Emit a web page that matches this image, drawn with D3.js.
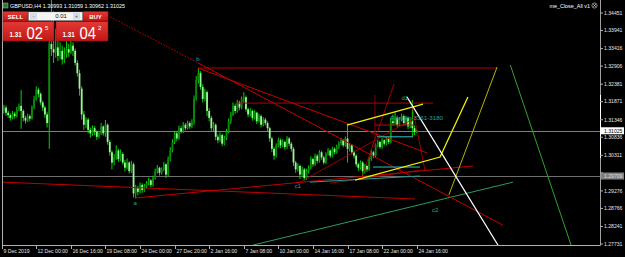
<!DOCTYPE html>
<html><head><meta charset="utf-8">
<script src="https://cdn.jsdelivr.net/npm/d3@7"></script>
<style>html,body{margin:0;padding:0;background:#000;overflow:hidden}svg{display:block}</style>
</head><body>
<svg id="c" width="625" height="257"></svg>
<script>
// ---------------- DATA ----------------
const symbolTitle = "GBPUSD,H4";
const lastOHLC = ["1.30993", "1.31059", "1.30962", "1.31025"];
const firstOpen = 1.3155;
const closes = [
1.3160,1.3170,1.3155,1.3148,1.3140,1.3152,1.3145,1.3165,1.3175,1.3160,
1.3140,1.3132,1.3145,1.3138,1.3170,1.3195,1.3222,1.3210,1.3185,1.3170,
1.3150,1.3125,1.3355,1.3340,1.3330,1.3345,1.3320,1.3335,1.3310,1.3325,
1.3340,1.3330,1.3350,1.3335,1.3300,1.3270,1.3225,1.3150,1.3120,1.3135,
1.3105,1.3095,1.3110,1.3100,1.3085,1.3095,1.3115,1.3095,1.3120,1.3070,
1.3040,1.3010,1.3025,1.3045,1.3020,1.3035,1.3010,1.2995,1.3010,1.2985,
1.3005,1.2920,1.2935,1.2925,1.2945,1.2930,1.2940,1.2950,1.2958,1.2945,
1.2965,1.2985,1.2995,1.2980,1.2990,1.3005,1.2975,1.3020,1.3045,1.3070,
1.3095,1.3080,1.3110,1.3100,1.3120,1.3110,1.3125,1.3115,1.3128,1.3195,
1.3250,1.3270,1.3230,1.3195,1.3215,1.3160,1.3140,1.3110,1.3120,1.3085,
1.3075,1.3090,1.3065,1.3080,1.3100,1.3130,1.3150,1.3175,1.3160,1.3185,
1.3170,1.3195,1.3200,1.3165,1.3150,1.3160,1.3140,1.3155,1.3130,1.3145,
1.3120,1.3135,1.3125,1.3110,1.3080,1.3050,1.3030,1.3060,1.3075,1.3060,
1.3070,1.3055,1.3080,1.3065,1.3050,1.3010,1.2990,1.3000,1.2975,1.2990,
1.2965,1.2985,1.2995,1.3020,1.3005,1.3030,1.3015,1.3040,1.3025,1.3010,
1.3035,1.3045,1.3030,1.3050,1.3040,1.3055,1.3065,1.3075,1.3060,1.3080,
1.3050,1.3060,1.3040,1.3030,1.3005,1.2995,1.3010,1.2985,1.3000,1.2990,
1.3020,1.3040,1.3030,1.3060,1.3070,1.3055,1.3075,1.3065,1.3080,1.3070,
1.3130,1.3125,1.3140,1.3120,1.3135,1.3145,1.3125,1.3140,1.3115,1.3130,
1.3110,1.30993,1.31025];
const highs = [
1.3172,1.3178,1.3176,1.3161,1.3153,1.3160,1.3158,1.3172,1.3182,1.3221,
1.3165,1.3146,1.3152,1.3150,1.3176,1.3204,1.3232,1.3228,1.3214,1.3190,
1.3175,1.3158,1.3420,1.3510,1.3450,1.3400,1.3370,1.3360,1.3350,1.3345,
1.3365,1.3355,1.3372,1.3360,1.3342,1.3308,1.3280,1.3232,1.3160,1.3142,
1.3140,1.3112,1.3118,1.3116,1.3104,1.3102,1.3125,1.3118,1.3134,1.3124,
1.3076,1.3046,1.3035,1.3060,1.3050,1.3048,1.3040,1.3018,1.3022,1.3014,
1.3015,1.3010,1.2945,1.2942,1.2952,1.2950,1.2948,1.2956,1.2966,1.2962,
1.2972,1.2992,1.3003,1.2998,1.2996,1.3012,1.3008,1.3028,1.3055,1.3078,
1.3102,1.3100,1.3118,1.3116,1.3128,1.3125,1.3132,1.3130,1.3136,1.3205,
1.3262,1.3285,1.3276,1.3238,1.3225,1.3220,1.3168,1.3146,1.3128,1.3124,
1.3092,1.3098,1.3094,1.3088,1.3108,1.3138,1.3158,1.3185,1.3180,1.3192,
1.3190,1.3202,1.3215,1.3205,1.3170,1.3168,1.3164,1.3162,1.3158,1.3152,
1.3150,1.3142,1.3140,1.3130,1.3114,1.3085,1.3056,1.3066,1.3082,1.3080,
1.3078,1.3074,1.3087,1.3084,1.3070,1.3055,1.3015,1.3008,1.3004,1.2998,
1.2994,1.2992,1.3002,1.3028,1.3024,1.3036,1.3034,1.3046,1.3044,1.3030,
1.3040,1.3052,1.3048,1.3056,1.3054,1.3062,1.3072,1.3082,1.3078,1.3086,
1.3121,1.3066,1.3064,1.3045,1.3034,1.3010,1.3016,1.3014,1.3006,1.3004,
1.3026,1.3046,1.3044,1.3066,1.3076,1.3074,1.3082,1.3078,1.3086,1.3084,
1.3140,1.3150,1.3156,1.3146,1.3142,1.3152,1.3150,1.3146,1.3144,1.3135,
1.3192,1.3118,1.31059];
const lows = [
1.3148,1.3152,1.3146,1.3140,1.3132,1.3136,1.3138,1.3141,1.3160,1.3108,
1.3130,1.3124,1.3128,1.3130,1.3135,1.3166,1.3190,1.3200,1.3178,1.3160,
1.3140,1.3112,1.3050,1.3320,1.3300,1.3315,1.3305,1.3310,1.3295,1.3300,
1.3315,1.3318,1.3325,1.3320,1.3292,1.3260,1.3205,1.3135,1.3105,1.3110,
1.3095,1.3082,1.3088,1.3090,1.3076,1.3080,1.3090,1.3088,1.3085,1.3062,
1.3030,1.2990,1.3002,1.3018,1.3012,1.3015,1.3004,1.2985,1.2990,1.2978,
1.2980,1.2908,1.2905,1.2915,1.2920,1.2922,1.2925,1.2935,1.2944,1.2938,
1.2940,1.2960,1.2978,1.2972,1.2975,1.2985,1.2965,1.2970,1.3014,1.3040,
1.3064,1.3072,1.3076,1.3094,1.3096,1.3104,1.3106,1.3108,1.3110,1.3120,
1.3190,1.3240,1.3222,1.3185,1.3188,1.3145,1.3130,1.3100,1.3102,1.3075,
1.3066,1.3070,1.3058,1.3060,1.3075,1.3095,1.3122,1.3145,1.3152,1.3155,
1.3162,1.3165,1.3185,1.3158,1.3142,1.3144,1.3132,1.3135,1.3122,1.3126,
1.3112,1.3115,1.3118,1.3100,1.3070,1.3040,1.3018,1.3025,1.3055,1.3052,
1.3055,1.3048,1.3050,1.3058,1.3042,1.3000,1.2980,1.2984,1.2962,1.2968,
1.2958,1.2960,1.2978,1.2990,1.2998,1.3000,1.3008,1.3010,1.3018,1.3004,
1.3006,1.3030,1.3024,1.3026,1.3034,1.3036,1.3050,1.3060,1.3054,1.3056,
1.3010,1.3042,1.3034,1.3022,1.2998,1.2986,1.2990,1.2968,1.2978,1.2982,
1.2986,1.3015,1.3024,1.3026,1.3054,1.3050,1.3050,1.3060,1.3060,1.3064,
1.3066,1.3118,1.3120,1.3112,1.3115,1.3130,1.3118,1.3120,1.3108,1.3110,
1.3085,1.3090,1.30962];

const timeTickBars = [0,16,32,48,64,80,96,112,128,144,160,176,192];
const timeTickLabels = ["9 Dec 2019","12 Dec 00:00","16 Dec 16:00","19 Dec 08:00","24 Dec 00:00","27 Dec 20:00","2 Jan 16:00","7 Jan 08:00","10 Jan 00:00","14 Jan 16:00","17 Jan 08:00","22 Jan 00:00","24 Jan 16:00"];
const priceTicks = [1.34451,1.33941,1.33416,1.32906,1.32381,1.31871,1.31346,1.30836,1.30311,1.29801,1.29276,1.28766,1.28241,1.27731];
const bidPrice = 1.31025;
const grayLevel = 1.29709;

// drawn objects: [barIndex, price] end points
const redDotted   = [[47.8,1.3442],[90.8,1.3300]];
const redFromB    = [[90.8,1.3300],[231.9,1.2828]];
const redTopHoriz = [[90.8,1.3285],[229.2,1.3285]];
const redBtoD     = [[90.8,1.3285],[196.8,1.3038]];
const redMidHoriz = [[107.9,1.3183],[199.5,1.3183]];
const redLowA     = [[0.6,1.2953],[191.2,1.2904]];
const redLowB     = [[61.7,1.2907],[218.0,1.3000]];
const redSteep    = [[166.7,1.2969],[181.5,1.3239]];
const redVertical = [[172.7,1.3207],[172.7,1.3056]];
const redC1D1     = [[138.0,1.2953],[193.5,1.3148]];
const redD1Down   = [[189.8,1.3178],[195.8,1.2988]];
const redShort    = [[172.7,1.3119],[190.3,1.3119]];
const redLowFlat  = [[151.9,1.2950],[193.5,1.2988]];
const yellowPath  = [[163.5,1.2959],[202.8,1.3026],[215.7,1.3201]];
const yellowUpper = [[159.7,1.3119],[194.9,1.3180]];
const oliveLine   = [[206.9,1.2916],[229.2,1.3288]];
const whiteLine   = [[187.5,1.3201],[229.6,1.2770]];
const greenDark   = [[116.3,1.2770],[236.5,1.2953]];
const greenLine   = [[235.3,1.3294],[263.4,1.2770]];
const cyanA       = [[173.6,1.3085],[190.3,1.3085]];
const cyanB       = [[171.8,1.2997],[193.5,1.2997]];
const cyanC       = [[142.6,1.2953],[193.5,1.2971]];
const waveLabels  = ["a","b","c1","d1","c2"];
const wavePoints  = [[61.7,1.2893],[90.8,1.3312],[137.0,1.2943],[186.5,1.3199],[200.5,1.2873]];
const noteText = "Ranges 3361-3180";
const notePoint = [204.2,1.3140];

// ---------------- DRAW ----------------
const W=625,H=257;
const svg=d3.select('#c');
svg.append('rect').attr('width',W).attr('height',H).attr('fill','#000');
const x=d3.scaleLinear().domain([0,192]).range([1.7,416.7]);
const y=d3.scaleLinear().domain([1.34451,1.27731]).range([13,244]);
const FONT="'Liberation Sans', Arial, sans-serif";

const defs=svg.append('defs');
defs.append('clipPath').attr('id','clip')
  .append('rect').attr('x',2).attr('y',0).attr('width',598).attr('height',245);
const plot=svg.append('g').attr('clip-path','url(#clip)');

function hline(v,color){
  plot.append('line').attr('x1',2).attr('x2',600).attr('y1',Math.round(y(v))+0.5).attr('y2',Math.round(y(v))+0.5)
    .attr('stroke',color).attr('stroke-width',1);
}
hline(bidPrice,'#74808e');
hline(grayLevel,'#6e6e6e');

// candles
const opens = closes.map((c,i)=> i===0 ? firstOpen : (i===closes.length-1 ? +lastOHLC[0] : closes[i-1]));
const cg = plot.append('g');
closes.forEach((c,i)=>{
  const o=opens[i], cx=x(i);
  cg.append('line').attr('x1',cx).attr('x2',cx).attr('y1',y(highs[i])).attr('y2',y(lows[i]))
    .attr('stroke','#00d400').attr('stroke-width',1);
  const top=y(Math.max(o,c)), bot=y(Math.min(o,c));
  cg.append('rect').attr('x',cx-0.9).attr('width',1.8).attr('y',top).attr('height',Math.max(0.8,bot-top))
    .attr('fill', c>=o ? '#0a8a0a' : '#9cf59c');
});

function seg(pts,color,w,dash){
  plot.append('path').attr('d',d3.line().x(d=>x(d[0])).y(d=>y(d[1]))(pts))
    .attr('fill','none').attr('stroke',color).attr('stroke-width',w)
    .attr('stroke-dasharray',dash||null);
}
seg(greenDark,'#2e9a62',1);
seg(greenLine,'#2fa12f',1);
seg(redLowA,'#c00000',1);
seg(redLowB,'#c00000',1);
seg(redTopHoriz,'#b00000',1);
seg(redMidHoriz,'#b40000',1);
seg(redDotted,'#d00000',1,'1.5,1.5');
seg(redFromB,'#c80000',1);
seg(redBtoD,'#c80000',1);
seg(redSteep,'#c80000',0.8);
seg(redVertical,'#800000',1);
seg(redC1D1,'#c00000',0.8);
seg(redD1Down,'#c00000',0.8);
seg(redShort,'#d00000',1);
seg(redLowFlat,'#c00000',0.8);
seg(cyanC,'#2a9c9c',1);
seg(cyanA,'#30c0c0',1);
seg(cyanB,'#30c0c0',1);
seg(oliveLine,'#b8b400',1);
seg(yellowUpper,'#f0f000',1.3);
seg(yellowPath,'#f0f000',1.3);
seg(whiteLine,'#ffffff',1.2);

// note text
plot.append('text').attr('x',x(notePoint[0])).attr('y',y(notePoint[1])+2)
  .attr('text-anchor','end').attr('font-family',FONT).attr('font-size',6.2)
  .attr('fill','#1fa5a5').text(noteText);

waveLabels.forEach((t,i)=>{
  plot.append('text').attr('x',x(wavePoints[i][0])).attr('y',y(wavePoints[i][1])+2)
    .attr('text-anchor','middle').attr('font-family',FONT).attr('font-size',6)
    .attr('fill','#1fa5a5').text(t);
});

// axes frame
const ax=svg.append('g');
ax.append('line').attr('x1',2.5).attr('x2',2.5).attr('y1',0).attr('y2',245.5).attr('stroke','#b0b0b0');
ax.append('line').attr('x1',2).attr('x2',600.5).attr('y1',245.5).attr('y2',245.5).attr('stroke','#b0b0b0');
ax.append('line').attr('x1',600.5).attr('x2',600.5).attr('y1',0).attr('y2',245.5).attr('stroke','#a0a0a0');
ax.append('line').attr('x1',600.5).attr('x2',600.5).attr('y1',95).attr('y2',158).attr('stroke','#ffffff');

// price axis (the label hidden behind the gray level box is not drawn)
priceTicks.forEach(v=>{
  const yy=y(v);
  ax.append('line').attr('x1',600).attr('x2',603).attr('y1',yy).attr('y2',yy).attr('stroke','#b0b0b0');
  if (Math.abs(yy - y(grayLevel)) < 7) return;
  ax.append('text').attr('x',604).attr('y',yy+1.8).attr('font-family',FONT).attr('font-size',5.1)
    .attr('fill','#e6e6e6').text(v.toFixed(5));
});
function priceBox(v,bg,fg){
  const yy=y(v);
  ax.append('rect').attr('x',601).attr('y',yy-3.5).attr('width',23).attr('height',7).attr('fill',bg);
  ax.append('text').attr('x',604).attr('y',yy+1.8).attr('font-family',FONT).attr('font-size',5.1)
    .attr('fill',fg).text(v.toFixed(5));
}
priceBox(bidPrice,'#ffffff','#000000');
priceBox(grayLevel,'#808080','#dddddd');

// time axis
timeTickBars.forEach((b,i)=>{
  const xx=Math.round(x(b))+0.5;
  ax.append('line').attr('x1',xx).attr('x2',xx).attr('y1',245).attr('y2',249).attr('stroke','#b0b0b0');
  ax.append('text').attr('x',xx+1).attr('y',252.5).attr('font-family',FONT).attr('font-size',5.1)
    .attr('fill','#e6e6e6').text(timeTickLabels[i]);
});

// header
const hd=svg.append('g');
hd.append('rect').attr('x',3).attr('y',3).attr('width',5).attr('height',5).attr('fill','#2a7a2a').attr('stroke','#bbb').attr('stroke-width',0.5);
hd.append('text').attr('x',10).attr('y',7.6).attr('font-family',FONT).attr('font-size',5.4).attr('fill','#ffffff')
  .text(symbolTitle+"  "+lastOHLC.join(" "));
hd.append('text').attr('x',590).attr('y',7.6).attr('text-anchor','end').attr('font-family',FONT).attr('font-size',5.4).attr('fill','#ffffff')
  .text("me_Close_All v1");
hd.append('circle').attr('cx',594.5).attr('cy',5.5).attr('r',2.6).attr('fill','none').attr('stroke','#ddd').attr('stroke-width',0.6);
hd.append('path').attr('d','M593,4 L596,7 M596,4 L593,7').attr('stroke','#ddd').attr('stroke-width',0.6);

// trade panel
const pn=svg.append('g');
const gr=defs.append('linearGradient').attr('id','rg').attr('x1',0).attr('x2',0).attr('y1',0).attr('y2',1);
gr.append('stop').attr('offset','0%').attr('stop-color','#e23a36');
gr.append('stop').attr('offset','100%').attr('stop-color','#c21616');
pn.append('rect').attr('x',3).attr('y',11.5).attr('width',25).attr('height',9.5).attr('fill','url(#rg)').attr('stroke','#8a1010').attr('stroke-width',0.5);
pn.append('rect').attr('x',83).attr('y',11.5).attr('width',25).attr('height',9.5).attr('fill','url(#rg)').attr('stroke','#8a1010').attr('stroke-width',0.5);
pn.append('text').attr('x',15.5).attr('y',18.6).attr('text-anchor','middle').attr('font-family',FONT).attr('font-size',6).attr('font-weight','bold').attr('fill','#fff').text('SELL');
pn.append('text').attr('x',95.5).attr('y',18.6).attr('text-anchor','middle').attr('font-family',FONT).attr('font-size',6).attr('font-weight','bold').attr('fill','#fff').text('BUY');
pn.append('rect').attr('x',28.5).attr('y',12).attr('width',54).attr('height',8.5).attr('fill','#f4f4f4').attr('stroke','#999').attr('stroke-width',0.4);
pn.append('rect').attr('x',30).attr('y',13).attr('width',7).attr('height',6.5).attr('fill','#d6dbe4');
pn.append('rect').attr('x',73).attr('y',13).attr('width',7).attr('height',6.5).attr('fill','#d6dbe4');
pn.append('text').attr('x',33.5).attr('y',17.6).attr('text-anchor','middle').attr('font-family',FONT).attr('font-size',5).attr('fill','#555').text('-');
pn.append('text').attr('x',76.5).attr('y',17.8).attr('text-anchor','middle').attr('font-family',FONT).attr('font-size',5).attr('fill','#555').text('+');
pn.append('text').attr('x',61).attr('y',18.4).attr('text-anchor','middle').attr('font-family',FONT).attr('font-size',6).attr('fill','#111').text('0.01');
function bigBox(x0,w,small,big,sup){
  pn.append('rect').attr('x',x0).attr('y',21.5).attr('width',w).attr('height',19.5).attr('fill','url(#rg)').attr('stroke','#8a1010').attr('stroke-width',0.5);
  pn.append('text').attr('x',x0+6.5).attr('y',37).attr('font-family',FONT).attr('font-size',6.3).attr('font-weight','bold').attr('fill','#fff').text(small);
  pn.append('text').attr('x',x0+23.5).attr('y',39.3).attr('font-family',FONT).attr('font-size',17).attr('textLength',16.5).attr('lengthAdjust','spacingAndGlyphs').attr('fill','#fff').text(big);
  pn.append('text').attr('x',x0+42).attr('y',29.5).attr('font-family',FONT).attr('font-size',6).attr('fill','#fff').text(sup);
}
bigBox(3,51,'1.31','02','5');
bigBox(56,52,'1.31','04','2');
</script>
</body></html>
